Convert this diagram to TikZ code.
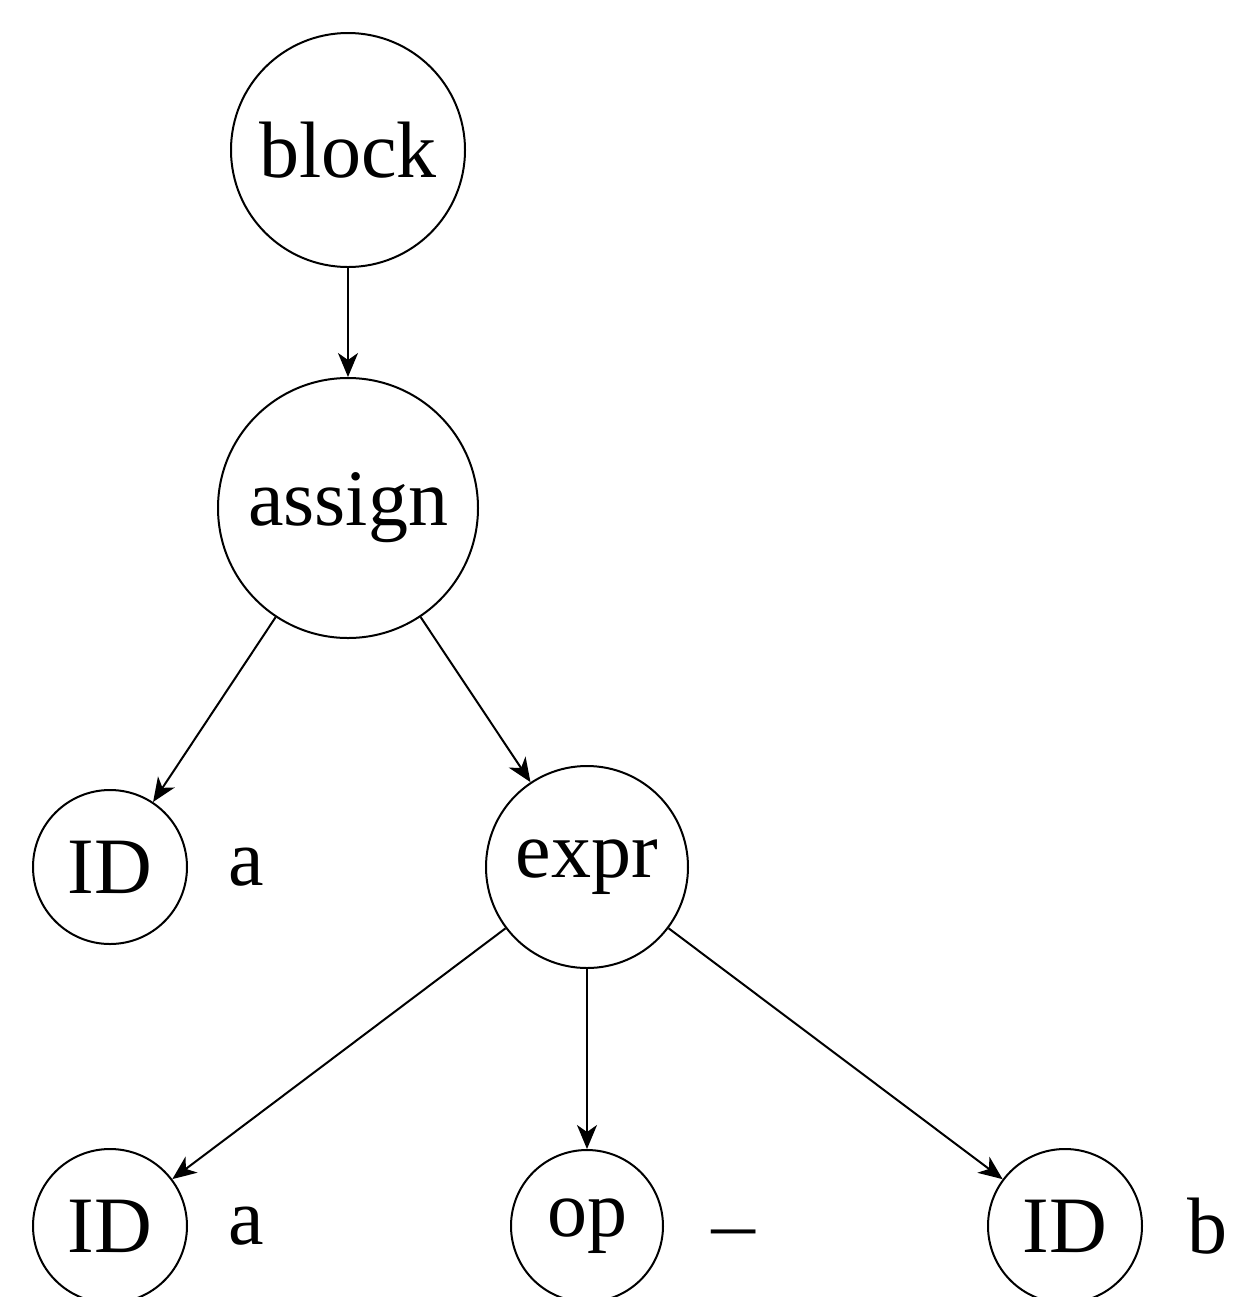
\documentclass[tikz,border=0pt]{standalone}
\usepackage{fontspec}
\setmainfont{Liberation Serif}
\usetikzlibrary{arrows.meta,positioning}
\begin{document}
\begin{tikzpicture}[x=0.5pt,y=-0.5pt,
  tn/.style={circle,draw,line width=1pt,inner sep=0pt,font=\fontsize{40}{48}\selectfont},
  lbl/.style={inner sep=0pt,font=\fontsize{40}{48}\selectfont},
  arr/.style={line width=1pt,-{Stealth[length=12pt,width=10pt,inset=3.5pt]}}]
\useasboundingbox (0,0) rectangle (1233,1297);
\node[tn,minimum size=117pt] (block)  at (348,150) {block};
\node[tn,minimum size=130pt] (assign) at (348,508) {assign};
\node[tn,minimum size=77pt]  (id1)    at (110,867) {ID};
\node[tn,minimum size=101pt] (expr)   at (587,867) {expr};
\node[tn,minimum size=77pt]  (id2)    at (110,1226) {ID};
\node[tn,minimum size=76pt]  (op)     at (587,1226) {op};
\node[tn,minimum size=77pt]  (id3)    at (1065,1226) {ID};
\node[lbl,right=20pt of id1] (l1) {a};
\node[lbl,right=20pt of id2] (l2) {a};
\node[lbl,anchor=base west,xscale=1.2] (l3) at ([xshift=21pt,yshift=-16pt]op.east) {−};
\node[lbl,right=22pt of id3] (l4) {b};
\draw[arr] (block) -- (assign);
\draw[arr] (assign) -- (id1);
\draw[arr] (assign) -- (expr);
\draw[arr] (expr) -- (id2);
\draw[arr] (expr) -- (op);
\draw[arr] (expr) -- (id3);
\end{tikzpicture}
\end{document}
